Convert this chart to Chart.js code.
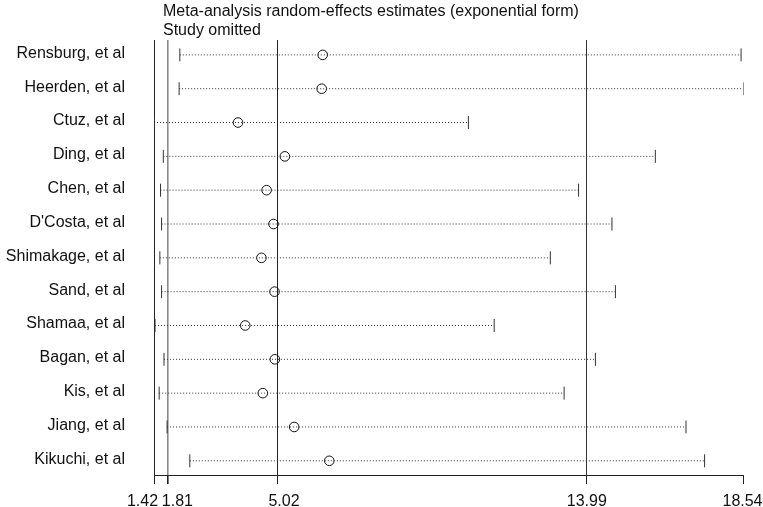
<!DOCTYPE html>
<html>
<head>
<meta charset="utf-8">
<script src="https://cdn.jsdelivr.net/npm/chart.js@4/dist/chart.umd.min.js"></script>
<style>
  body { margin: 0; background: #fff; }
  #wrap { width: 763px; height: 507px; position: relative; }
</style>
</head>
<body>
<div id="wrap"><canvas id="sens"></canvas></div>
<script>
const studies = [
  "Rensburg, et al", "Heerden, et al", "Ctuz, et al", "Ding, et al", "Chen, et al",
  "D'Costa, et al", "Shimakage, et al", "Sand, et al", "Shamaa, et al", "Bagan, et al",
  "Kis, et al", "Jiang, et al", "Kikuchi, et al"
];
const estimates = [6.32, 6.29, 3.86, 5.22, 4.69, 4.89, 4.54, 4.92, 4.07, 4.93, 4.58, 5.49, 6.51];
const lowerCI = [2.17, 2.15, 1.42, 1.69, 1.61, 1.64, 1.59, 1.64, 1.45, 1.71, 1.57, 1.80, 2.46];
const upperCI = [18.47, 18.54, 10.55, 15.98, 13.75, 14.72, 12.93, 14.82, 11.30, 14.24, 13.33, 16.87, 17.41];
const xTicks = [1.42, 1.81, 5.02, 13.99, 18.54];
const titleLines = ["Meta-analysis random-effects estimates (exponential form)", "Study omitted"];

const FONT = '"Liberation Sans", Arial, sans-serif';

// dotted CI line per study
const ciSets = studies.map((s, i) => ({
  type: "scatter",
  showLine: true,
  data: [{ x: lowerCI[i], y: i }, { x: upperCI[i], y: i }],
  borderColor: "#333",
  borderWidth: 1,
  borderDash: [1, 2],
  pointRadius: 0,
}));

const capPoints = [];
studies.forEach((s, i) => {
  capPoints.push({ x: lowerCI[i], y: i });
  capPoints.push({ x: upperCI[i], y: i });
});

// grid line look per x tick
const gridColor = (v) => {
  if (v === 1.81) return "#8a8a8a";
  if (v === 5.02) return "#222";
  if (v === 13.99) return "#333";
  return "rgba(0,0,0,0)";
};

const textPlugin = {
  id: "texts",
  afterDraw(chart) {
    const ctx = chart.ctx;
    const xs = chart.scales.x;
    ctx.save();
    ctx.fillStyle = "#111";
    ctx.font = "16px " + FONT;
    ctx.textAlign = "left";
    ctx.textBaseline = "alphabetic";
    ctx.fillText(titleLines[0], 163, 16);
    ctx.fillText(titleLines[1], 163, 35);
    // tick labels (reference nudges the crowded ones apart)
    const shift = [-11.5, 10, 6, 0, -1];
    ctx.textAlign = "center";
    xTicks.forEach((v, i) => {
      ctx.fillText(v.toFixed(2), xs.getPixelForValue(v) + shift[i], 506);
    });
    ctx.restore();
  },
};

new Chart(document.getElementById("sens"), {
  type: "scatter",
  data: {
    datasets: [
      ...ciSets,
      {
        data: capPoints,
        pointStyle: "line",
        rotation: 90,
        pointRadius: 6.5,
        borderColor: "#333",
        borderWidth: 1,
      },
      {
        data: estimates.map((e, i) => ({ x: e, y: i })),
        pointStyle: "circle",
        pointRadius: 4.8,
        backgroundColor: "rgba(0,0,0,0)",
        borderColor: "#111",
        borderWidth: 1,
      },
    ],
  },
  options: {
    responsive: true,
    maintainAspectRatio: false,
    animation: false,
    layout: { padding: { top: 40, right: 19.5, left: 0, bottom: 0 } },
    plugins: { legend: { display: false }, tooltip: { enabled: false } },
    scales: {
      x: {
        type: "linear",
        min: 1.42,
        max: 18.54,
        afterBuildTicks: (axis) => { axis.ticks = xTicks.map((v) => ({ value: v })); },
        afterFit: (axis) => { axis.height = 32; axis.paddingLeft = 0; axis.paddingRight = 0; },
        grid: {
          color: (c) => gridColor(c.tick ? c.tick.value : null),
          lineWidth: (c) => (c.tick && c.tick.value === 1.81 ? 1.6 : 1),
          tickColor: "#222",
          tickLength: 9,
        },
        border: { display: true, color: "#222", width: 1 },
        ticks: { display: false },
      },
      y: {
        type: "linear",
        reverse: true,
        min: -0.44,
        max: 12.42,
        afterBuildTicks: (axis) => { axis.ticks = studies.map((s, i) => ({ value: i })); },
        afterFit: (axis) => { axis.width = 154; axis.paddingTop = 0; axis.paddingBottom = 0; },
        grid: { display: false, drawTicks: false },
        border: { display: true, color: "#222", width: 1 },
        ticks: {
          padding: 29,
          labelOffset: -1.5,
          color: "#111",
          font: { family: FONT, size: 16 },
          callback: (v) => studies[v],
        },
      },
    },
  },
  plugins: [textPlugin],
});
</script>
</body>
</html>
